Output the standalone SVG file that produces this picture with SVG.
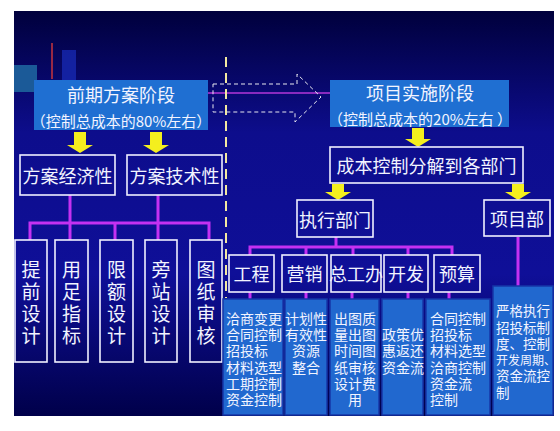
<svg xmlns="http://www.w3.org/2000/svg" width="560" height="431" viewBox="0 0 560 431">
<defs>
<linearGradient id="bg" x1="0" y1="0" x2="0" y2="1">
<stop offset="0" stop-color="#00003c"/>
<stop offset="0.3" stop-color="#0d0d8c"/>
<stop offset="0.65" stop-color="#0f0f98"/>
<stop offset="1" stop-color="#00004a"/>
</linearGradient>
<style>
text{font-family:"Noto Sans CJK SC","Noto Sans",sans-serif;fill:#f2f4ff}
.t{font-size:18px;text-anchor:middle;dominant-baseline:central}
.s{font-size:14px;dominant-baseline:central}
.c{text-anchor:middle}
.box{fill:none;stroke:#f0f0ff;stroke-width:1.6}
.phase{fill:#1f6fd2}
.blue{fill:#2168cf;stroke:#1636a8;stroke-width:1.5}
.pur{fill:none;stroke:#c431f2;stroke-width:3}
.yel{fill:#f4ef1e}
</style>
</defs>
<rect x="0" y="0" width="560" height="431" fill="#ffffff"/>
<rect x="14" y="11" width="540" height="405" fill="url(#bg)"/>
<rect x="14" y="65" width="23" height="27" fill="#1b5a98"/>
<rect x="62" y="50" width="14" height="30" fill="#1628b0" opacity="0.8"/>
<line x1="52" y1="43" x2="52" y2="79" stroke="#c8343c" stroke-width="1.5"/>

<g id="connectors">
<line x1="208" y1="93" x2="330" y2="93" stroke="#b436d8" stroke-width="1.5"/>
<line x1="226" y1="57" x2="226" y2="298" stroke="#f3e9a0" stroke-width="2" stroke-dasharray="10 6"/>
<path d="M213 84 H297 V74 L321 97 L295 122 V112 H213 Z" fill="none" stroke="#e8e8f0" stroke-width="1" stroke-dasharray="4 3"/>
<path class="yel" d="M74 132 H86 V145 H93 L80 153 L67 145 H74 Z"/>
<path class="yel" d="M150 132 H162 V145 H169 L156 153 L143 145 H150 Z"/>
<path class="yel" d="M412 128 H424 V139 H431 L418 147 L405 139 H412 Z"/>
<path class="yel" d="M332 184 H344 V192 H351 L338 200 L325 192 H332 Z"/>
<path class="yel" d="M512 184 H524 V192 H531 L518 200 L505 192 H512 Z"/>
<path class="pur" d="M70 195 V223 M158 195 V223 M30 240 V223 H209 V240 M70 223 V240 M115 223 V240 M158 223 V240"/>
<path class="pur" d="M336 237 V247 M250 255 V247 H452 V255 M306 247 V255 M353 247 V255 M408 247 V255"/>
<path class="pur" d="M250 292 V299 M306 292 V299 M352 292 V299 M408 292 V299 M449 292 V299"/>
<path class="pur" d="M518 237 V286"/>
</g>

<g id="phase1">
<rect class="phase" x="34" y="80" width="174" height="50"/>
<text class="t" x="121" y="94">前期方案阶段</text>
<text class="t" x="121" y="120" style="font-size:15px">（控制总成本的80%左右）</text>
</g>
<g id="phase2">
<rect class="phase" x="330" y="80" width="179" height="47"/>
<text class="t" x="420" y="92">项目实施阶段</text>
<text class="t" x="420" y="118" style="font-size:15px">（控制总成本的20%左右 ）</text>
</g>

<g id="n-econ"><rect class="box" x="20" y="155" width="95" height="40"/><text class="t" x="67.5" y="175">方案经济性</text></g>
<g id="n-tech"><rect class="box" x="127" y="155" width="95" height="40"/><text class="t" x="174.5" y="175">方案技术性</text></g>

<g id="n-tiqian"><rect class="box" x="15" y="240" width="32" height="122"/>
<text class="t" style="font-size:19px"><tspan x="31" y="268">提</tspan><tspan x="31" y="290">前</tspan><tspan x="31" y="312">设</tspan><tspan x="31" y="334">计</tspan></text></g>
<g id="n-yongzu"><rect class="box" x="55" y="240" width="33" height="122"/>
<text class="t" style="font-size:19px"><tspan x="71.5" y="268">用</tspan><tspan x="71.5" y="290">足</tspan><tspan x="71.5" y="312">指</tspan><tspan x="71.5" y="334">标</tspan></text></g>
<g id="n-xiane"><rect class="box" x="100" y="240" width="33" height="122"/>
<text class="t" style="font-size:19px"><tspan x="116.5" y="268">限</tspan><tspan x="116.5" y="290">额</tspan><tspan x="116.5" y="312">设</tspan><tspan x="116.5" y="334">计</tspan></text></g>
<g id="n-pangzhan"><rect class="box" x="145" y="240" width="32" height="122"/>
<text class="t" style="font-size:19px"><tspan x="161" y="268">旁</tspan><tspan x="161" y="290">站</tspan><tspan x="161" y="312">设</tspan><tspan x="161" y="334">计</tspan></text></g>
<g id="n-tuzhi"><rect class="box" x="190" y="240" width="32" height="122"/>
<text class="t" style="font-size:19px"><tspan x="206" y="268">图</tspan><tspan x="206" y="290">纸</tspan><tspan x="206" y="312">审</tspan><tspan x="206" y="334">核</tspan></text></g>

<g id="n-split"><rect class="box" x="330" y="147" width="193" height="36"/><text class="t" x="426.5" y="165">成本控制分解到各部门</text></g>
<g id="n-exec"><rect class="box" x="297" y="200" width="76" height="37"/><text class="t" x="335" y="219">执行部门</text></g>
<g id="n-proj"><rect class="box" x="484" y="200" width="66" height="36"/><text class="t" x="517" y="218">项目部</text></g>

<g id="n-gongcheng"><rect class="box" x="229" y="255" width="45" height="37"/><text class="t" x="251.5" y="273">工程</text></g>
<g id="n-yingxiao"><rect class="box" x="282" y="255" width="45" height="37"/><text class="t" x="304.5" y="273">营销</text></g>
<g id="n-zonggong"><rect class="box" x="331" y="255" width="50" height="37"/><text class="t" x="356" y="273">总工办</text></g>
<g id="n-kaifa"><rect class="box" x="384" y="255" width="44" height="37"/><text class="t" x="406" y="273">开发</text></g>
<g id="n-yusuan"><rect class="box" x="434" y="255" width="46" height="37"/><text class="t" x="457" y="273">预算</text></g>

<g id="d-gongcheng"><rect class="blue" x="223" y="299" width="60" height="116"/>
<text class="s"><tspan x="226" y="318">洽商变更</tspan><tspan x="226" y="334">合同控制</tspan><tspan x="226" y="350">招投标</tspan><tspan x="226" y="367">材料选型</tspan><tspan x="226" y="383">工期控制</tspan><tspan x="226" y="399">资金控制</tspan></text></g>
<g id="d-yingxiao"><rect class="blue" x="285" y="299" width="42" height="116"/>
<text class="s c"><tspan x="306" y="318">计划性</tspan><tspan x="306" y="334">有效性</tspan><tspan x="306" y="350">资源</tspan><tspan x="306" y="367">整合</tspan></text></g>
<g id="d-zonggong"><rect class="blue" x="330" y="299" width="49" height="116"/>
<text class="s c"><tspan x="355" y="318">出图质</tspan><tspan x="355" y="334">量出图</tspan><tspan x="355" y="350">时间图</tspan><tspan x="355" y="367">纸审核</tspan><tspan x="355" y="383">设计费</tspan><tspan x="355" y="399">用</tspan></text></g>
<g id="d-kaifa"><rect class="blue" x="382" y="299" width="41" height="116"/>
<text class="s c"><tspan x="403" y="334">政策优</tspan><tspan x="403" y="350">惠返还</tspan><tspan x="403" y="367">资金流</tspan></text></g>
<g id="d-yusuan"><rect class="blue" x="426" y="299" width="64" height="116"/>
<text class="s"><tspan x="430" y="318">合同控制</tspan><tspan x="430" y="334">招投标</tspan><tspan x="430" y="350">材料选型</tspan><tspan x="430" y="367">洽商控制</tspan><tspan x="430" y="383">资金流</tspan><tspan x="430" y="399">控制</tspan></text></g>
<g id="d-proj"><rect class="blue" x="493" y="286" width="60" height="129"/>
<text class="s" style="font-size:13.5px"><tspan x="496" y="310">严格执行</tspan><tspan x="496" y="327">招投标制</tspan><tspan x="496" y="343">度、控制</tspan><tspan x="496" y="359" style="font-size:12px">开发周期、</tspan><tspan x="496" y="375">资金流控</tspan><tspan x="496" y="392">制</tspan></text></g>
</svg>
